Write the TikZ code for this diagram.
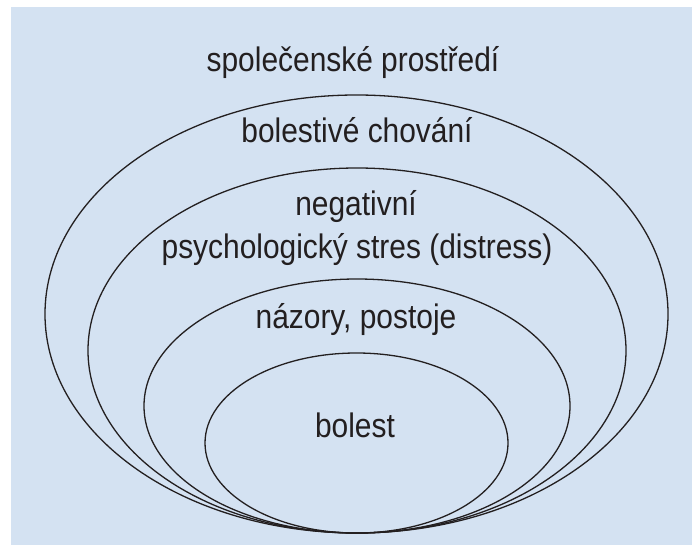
\documentclass[tikz,border=0pt]{standalone}
\usepackage{fontspec}
\setmainfont[FakeStretch=0.88]{Liberation Sans}
\definecolor{bgblue}{RGB}{212,226,242}
\definecolor{inkgray}{RGB}{35,31,32}
\begin{document}
\begin{tikzpicture}[x=1pt,y=-1pt,
    ringtext/.style={anchor=base, inner sep=0pt, text=inkgray, font=\fontsize{34}{43}\selectfont},
    ring/.style={draw=inkgray, line width=1.3pt}]

    % 画布与背景
    \useasboundingbox (0,0) rectangle (692,545);
    \fill[bgblue] (11,7) rectangle (692,545);

    % 四个相切的椭圆(底部共点)
    \draw[ring] (356.5,314) ellipse [x radius=311.5pt, y radius=219pt]; % 最外层
    \draw[ring] (357,350.5) ellipse [x radius=269pt, y radius=182.5pt]; % 第二层
    \draw[ring] (357,406) ellipse [x radius=213pt, y radius=127pt];     % 第三层
    \draw[ring] (356.5,443) ellipse [x radius=151.5pt, y radius=90pt];  % 最内层

    % 标签
    \node[ringtext] (social) at (353,72) {společenské prostředí};
    \node[ringtext] (behav)  at (357,143) {bolestivé chování};
    \node[ringtext] (neg)    at (356,215) {negativní};
    \node[ringtext] (stress) at (357,258) {psychologický stres (distress)};
    \node[ringtext] (views)  at (356,328) {názory, postoje};
    \node[ringtext] (pain)   at (355,437) {bolest};

\end{tikzpicture}
\end{document}
